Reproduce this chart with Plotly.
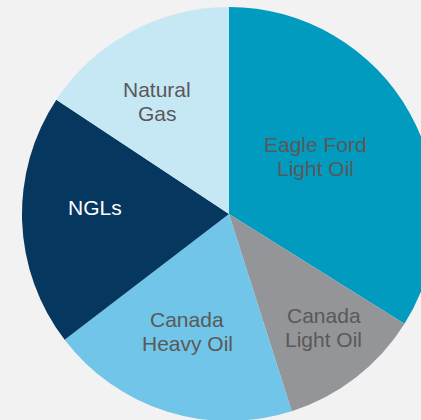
import math
import plotly.graph_objects as go

# slice labels and shares (%), clockwise from 12 o'clock
labels = ["Eagle Ford<br>Light Oil", "Canada<br>Light Oil", "Canada<br>Heavy Oil", "NGLs", "Natural<br>Gas"]
shares = [33.9, 11.2, 19.5, 19.7, 15.7]

colors = ["#009bbf", "#939598", "#71c5e8", "#05375f", "#c6e7f4"]
text_colors = ["#595959", "#595959", "#595959", "#ffffff", "#595959"]

# label placement: radius as fraction of pie radius, small angle nudge (deg)
label_r = [0.505, 0.715, 0.604, 0.647, 0.643]
label_nudge = [-4.7, -2.1, 2.1, 4.6, -4.4]

W, H = 440, 430
CX, CY, R = 229, 214, 207
LINE = 24  # px between text lines

fig = go.Figure(go.Pie(
    labels=labels,
    values=shares,
    sort=False,
    direction="clockwise",
    rotation=0,
    marker=dict(colors=colors, line=dict(width=0)),
    textinfo="none",
    hoverinfo="label+percent",
    showlegend=False,
    domain=dict(x=[(CX - R) / W, (CX + R) / W], y=[1 - (CY + R) / H, 1 - (CY - R) / H]),
))

# labels sit near each slice's bisector, one annotation per text line
total = sum(shares)
cum = 0
for lab, v, tc, rf, nd in zip(labels, shares, text_colors, label_r, label_nudge):
    mid = (cum + v / 2) / total * 360 + nd
    cum += v
    a = math.radians(mid)
    px = CX + rf * R * math.sin(a)
    py = CY - rf * R * math.cos(a)
    lines = lab.split("<br>")
    for i, ln in enumerate(lines):
        ly = py + (i - (len(lines) - 1) / 2) * LINE
        fig.add_annotation(
            x=px / W, y=1 - ly / H, xref="paper", yref="paper",
            text=ln, showarrow=False,
            font=dict(family="Liberation Sans, Arial, sans-serif", size=21, color=tc),
            xanchor="center", yanchor="middle",
        )

fig.update_layout(
    width=W, height=H,
    margin=dict(l=0, r=0, t=0, b=0),
    paper_bgcolor="#f2f2f2",
    plot_bgcolor="#f2f2f2",
)

fig.write_html(
    "out.html",
    config={"displayModeBar": False},
    post_script="document.body.style.margin='0';document.body.style.overflow='hidden';"
                "document.body.style.background='#f2f2f2';",
)
